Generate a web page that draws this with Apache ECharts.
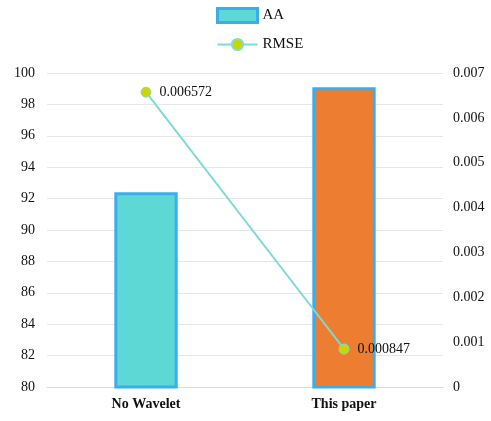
<!DOCTYPE html>
<html>
<head>
<meta charset="utf-8">
<script src="https://cdn.jsdelivr.net/npm/echarts@6/dist/echarts.min.js"></script>
<style>
  html, body { margin: 0; padding: 0; background: #fff; }
  #chart { width: 491px; height: 421px; }
</style>
</head>
<body>
<div id="chart"></div>
<script>
const categories = ['No Wavelet', 'This paper']
const aaValues = [92.4, 99.1]
const rmseValues = [0.006572, 0.000847]
const rmseLabels = ['0.006572', '0.000847']
const barColors = ['#5dd8d4', '#ed7d31']

const font = '"Liberation Serif", "Times New Roman", serif'

const chart = echarts.init(document.getElementById('chart'))

chart.setOption({
  animation: false,
  textStyle: { fontFamily: font },
  legend: {
    orient: 'vertical',
    left: 211,
    top: 2,
    itemGap: 13,
    itemWidth: 40,
    itemHeight: 14,
    textStyle: { fontFamily: font, fontSize: 15, color: '#111' },
    data: [
      { name: 'AA', icon: 'rect', itemStyle: { color: '#5dd8d4', borderColor: '#3aaeea', borderWidth: 3 } },
      { name: 'RMSE' }
    ]
  },
  grid: { left: 47, right: 48, top: 73, bottom: 34 },
  xAxis: {
    type: 'category',
    data: categories,
    axisTick: { show: false },
    axisLine: { lineStyle: { color: '#d9d9d9' } },
    axisLabel: { fontFamily: font, fontSize: 14, fontWeight: 'bold', color: '#111', margin: 10 }
  },
  yAxis: [
    {
      type: 'value',
      min: 80, max: 100, interval: 2,
      axisLine: { show: false },
      axisTick: { show: false },
      splitLine: { lineStyle: { color: '#e6e6e6' } },
      axisLabel: { fontFamily: font, fontSize: 14, color: '#111', margin: 12 }
    },
    {
      type: 'value',
      min: 0, max: 0.007, interval: 0.001,
      axisLine: { show: false },
      axisTick: { show: false },
      splitLine: { show: false },
      axisLabel: { fontFamily: font, fontSize: 14, color: '#111', margin: 10 }
    }
  ],
  series: [
    {
      name: 'AA',
      type: 'bar',
      barWidth: '32%',
      data: aaValues.map((v, i) => ({
        value: v,
        itemStyle: { color: barColors[i], borderColor: '#3aaeea', borderWidth: 3 }
      }))
    },
    {
      name: 'RMSE',
      type: 'line',
      yAxisIndex: 1,
      data: rmseValues,
      symbol: 'circle',
      symbolSize: 10,
      lineStyle: { color: '#7fd9d7', width: 2 },
      itemStyle: { color: '#cbd600', borderColor: '#86dcc8', borderWidth: 1 },
      label: {
        show: true,
        position: 'right',
        distance: 8,
        fontFamily: font,
        fontSize: 14,
        color: '#111',
        formatter: (p) => rmseLabels[p.dataIndex]
      }
    }
  ]
})
</script>
</body>
</html>
